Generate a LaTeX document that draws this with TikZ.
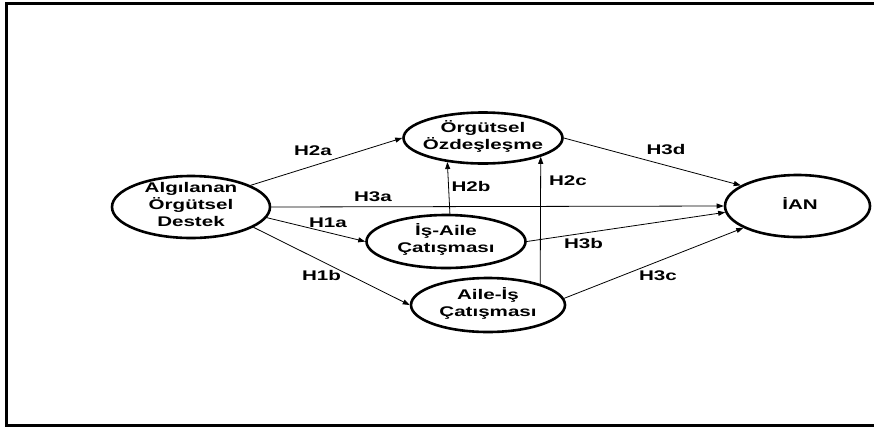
\documentclass[tikz,border=0pt]{standalone}
\usepackage{fontspec}
\setmainfont{Liberation Sans}
\usetikzlibrary{shapes.geometric,arrows.meta}

% wide bold lettering used throughout the model
\newcommand{\wtext}[1]{\scalebox{1.47}[1]{\begin{tabular}{@{}c@{}}#1\end{tabular}}}

\tikzset{
  construct/.style={ellipse, draw, line width=2.6pt, inner sep=0pt},
  txt/.style={font=\fontsize{14}{17}\selectfont\bfseries, inner sep=0pt, align=center},
  path/.style={line width=0.8pt, -{Triangle[length=7pt,width=5pt]}},
  hyp/.style={txt},
  frame/.style={line width=3pt}
}

\begin{document}
\begin{tikzpicture}[x=1pt,y=-1pt]
\useasboundingbox (0,0) rectangle (874,432);

% open frame
\draw[frame] (874,3) -- (6,3) -- (6,425) -- (874,425);

% constructs
\node[construct, minimum width=158pt, minimum height=62pt] (aod) at (191,207) {};
\node[txt] (aodt) at (191,206) {\wtext{Algılanan\\Örgütsel\\Destek}};

\node[construct, minimum width=159pt, minimum height=51pt] (oo) at (483,138) {};
\node[txt] (oot) at (483,138) {\wtext{Örgütsel\\Özdeşleşme}};

\node[construct, minimum width=159pt, minimum height=53pt] (ia) at (446,241.5) {};
\node[txt] (iat) at (446,241) {\wtext{İş-Aile\\Çatışması}};

\node[construct, minimum width=154pt, minimum height=54pt] (ai) at (488,305) {};
\node[txt] (ait) at (488,305) {\wtext{Aile-İş\\Çatışması}};

\node[construct, minimum width=145pt, minimum height=62pt] (ian) at (797.5,206) {};
\node[txt] (iant) at (800,206) {\wtext{İAN}};

% hypothesised paths
\draw[path] (aod.20) -- (oo.west);
\draw[path] (aod.east) -- (ian.west);
\draw[path] (aod.-8) -- (ia.west);
\draw[path] (aod.-18) -- (ai.west);
\draw[path] (ia.82) -- (oo.-146);
\draw[path] (ai.22) -- (oo.-18);
\draw[path] (oo.east) -- (ian.160);
\draw[path] (ia.east) -- (ian.185);
\draw[path] (ai.5) -- (ian.202);

% hypothesis labels
\node[hyp] (h2a) at (313,152) {\wtext{H2a}};
\node[hyp] (h3a) at (373,198.5) {\wtext{H3a}};
\node[hyp] (h1a) at (328,224.5) {\wtext{H1a}};
\node[hyp] (h1b) at (321.5,277) {\wtext{H1b}};
\node[hyp] (h2b) at (471,188) {\wtext{H2b}};
\node[hyp] (h2c) at (568,182) {\wtext{H2c}};
\node[hyp] (h3d) at (666,151) {\wtext{H3d}};
\node[hyp] (h3b) at (583.5,245.5) {\wtext{H3b}};
\node[hyp] (h3c) at (658,277.5) {\wtext{H3c}};
\end{tikzpicture}
\end{document}
